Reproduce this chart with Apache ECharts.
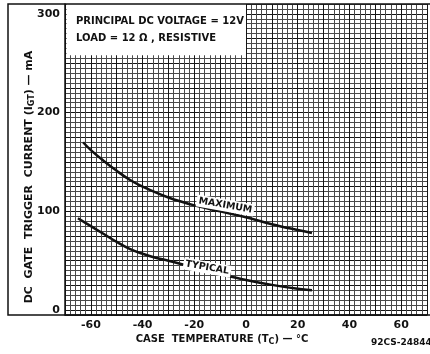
<!DOCTYPE html>
<html>
<head>
<meta charset="utf-8">
<script src="https://cdn.jsdelivr.net/npm/echarts@6/dist/echarts.min.js"></script>
<style>
  html, body { margin: 0; padding: 0; background: #fff; }
  #chart { width: 430px; height: 354px; }
</style>
</head>
<body>
<div id="chart"></div>
<script>
// case temperature (°C) vs DC gate trigger current (mA)
const tempMax = [-63, -60, -55, -50, -45, -40, -30, -20, -10, 0, 10, 20, 25.5];
const currentMax = [170, 162, 151, 141, 132, 125, 114, 106, 100, 94, 87, 81, 78];
const tempTyp = [-65, -60, -55, -50, -45, -40, -35, -30, -20, -10, 0, 10, 20, 25.5];
const currentTyp = [93, 85, 77, 69, 62, 57, 53, 50, 43, 36.5, 30.5, 25.5, 21.5, 20];

const xLabels = [-60, -40, -20, 0, 20, 40, 60];
const yLabels = [0, 100, 200, 300];

const FONT = 'DejaVu Sans';
const INK = '#111';

const chart = echarts.init(document.getElementById('chart'));

const pairs = (xs, ys) => xs.map((x, i) => [x, ys[i]]);

const curveLabel = (text, coord) => ({
    coord: coord,
    symbol: 'rect',
    symbolSize: 0,
    label: {
        show: true,
        position: 'inside',
        formatter: text,
        rotate: -10,
        color: INK,
        fontFamily: FONT,
        fontWeight: 'bold',
        fontSize: 9.5,
        backgroundColor: '#fff',
        padding: [1, 2]
    }
});

const subStyle = { fontSize: 8, fontFamily: FONT, fontWeight: 'bold', padding: [5, 0, 0, 0], fill: INK };

chart.setOption({
    animation: false,
    backgroundColor: '#fff',
    grid: { left: 65, top: 4, width: 366, height: 311 },
    xAxis: {
        type: 'value',
        min: -70,
        max: 70,
        interval: 2,
        axisLine: { show: true, onZero: false, lineStyle: { color: INK, width: 1.5 } },
        axisTick: { show: false },
        axisLabel: {
            color: INK,
            fontFamily: FONT,
            fontWeight: 'bold',
            fontSize: 11,
            margin: 5,
            formatter: v => (xLabels.includes(v) ? String(v) : '')
        },
        splitLine: {
            show: true,
            lineStyle: { width: 1, color: ['#151515', '#4a4a4a', '#4a4a4a', '#4a4a4a', '#4a4a4a'] }
        }
    },
    yAxis: {
        type: 'value',
        min: -5,
        max: 310,
        interval: 5,
        axisLine: { show: true, onZero: false, lineStyle: { color: INK, width: 1.5 } },
        axisTick: { show: false },
        axisLabel: {
            color: INK,
            fontFamily: FONT,
            fontWeight: 'bold',
            fontSize: 11,
            margin: 5,
            formatter: v => (yLabels.includes(v) ? String(v) : '')
        },
        splitLine: {
            show: true,
            lineStyle: { width: 1, color: ['#4a4a4a', '#151515', '#4a4a4a', '#4a4a4a', '#4a4a4a'] }
        }
    },
    series: [
        {
            name: 'Maximum',
            type: 'line',
            data: pairs(tempMax, currentMax),
            smooth: 0.4,
            symbol: 'none',
            lineStyle: { color: INK, width: 2.5 },
            markArea: {
                silent: true,
                itemStyle: { color: '#fff', opacity: 1 },
                data: [[{ coord: [-69.4, 258] }, { coord: [0, 310] }]]
            },
            markPoint: { data: [curveLabel('MAXIMUM', [-8, 106])] }
        },
        {
            name: 'Typical',
            type: 'line',
            data: pairs(tempTyp, currentTyp),
            smooth: 0.4,
            symbol: 'none',
            lineStyle: { color: INK, width: 2.5 },
            markPoint: { data: [curveLabel('TYPICAL', [-15, 43])] }
        }
    ],
    graphic: [
        {
            type: 'rect',
            z: 100,
            shape: { x: 8, y: 4, width: 440, height: 311 },
            style: { fill: 'none', stroke: INK, lineWidth: 1.5 }
        },
        {
            type: 'text',
            z: 100,
            left: 76,
            top: 13,
            style: {
                text: 'PRINCIPAL DC VOLTAGE = 12V\nLOAD = 12 Ω , RESISTIVE',
                fill: INK,
                font: 'bold 10px ' + FONT,
                lineHeight: 17
            }
        },
        {
            type: 'text',
            z: 100,
            x: 29,
            y: 177,
            rotation: Math.PI / 2,
            style: {
                text: 'DC  GATE  TRIGGER  CURRENT (I{s|GT}) — mA',
                fill: INK,
                font: 'bold 11px ' + FONT,
                align: 'center',
                verticalAlign: 'middle',
                rich: { s: subStyle }
            }
        },
        {
            type: 'text',
            z: 100,
            x: 222,
            y: 339,
            style: {
                text: 'CASE  TEMPERATURE (T{s|C}) — °C',
                fill: INK,
                font: 'bold 10px ' + FONT,
                align: 'center',
                verticalAlign: 'middle',
                rich: { s: subStyle }
            }
        },
        {
            type: 'text',
            z: 100,
            x: 371,
            y: 343,
            style: {
                text: '92CS-24844',
                fill: INK,
                font: 'bold 9px ' + FONT,
                verticalAlign: 'middle'
            }
        }
    ]
});
</script>
</body>
</html>
